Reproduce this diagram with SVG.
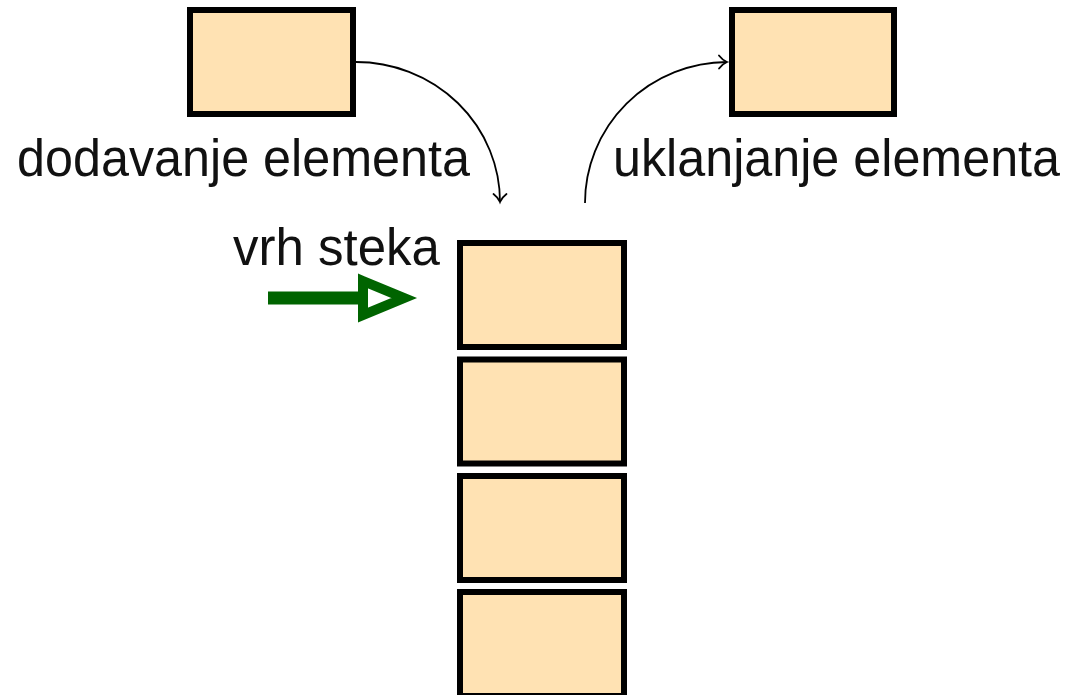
<svg xmlns="http://www.w3.org/2000/svg" width="1071" height="695" viewBox="0 0 1071 695">
  <style>
    .box { fill: #FFE2B3; stroke: #000; stroke-width: 6; }
    .lbl { font-family: "Liberation Sans", Arial, sans-serif; font-size: 51px; fill: #111; }
    .flow { fill: none; stroke: #000; stroke-width: 1.8; }
    .top { fill: none; stroke: #006400; stroke-width: 13; }
    .tophead { fill: #fff; stroke: #006400; stroke-width: 10; stroke-linejoin: miter; stroke-miterlimit: 10; }
  </style>
  <defs>
    <marker id="tip" markerUnits="userSpaceOnUse" markerWidth="20" markerHeight="20" refX="0" refY="0" viewBox="-12 -10 14 20" orient="auto">
      <path d="M-8,-6.5 C-5,-2.5 -2,-0.8 0,0 C-2,0.8 -5,2.5 -8,6.5" fill="none" stroke="#000" stroke-width="1.8" stroke-linecap="round"/>
    </marker>
  </defs>

  <rect width="1071" height="695" fill="#fff"/>

  <!-- element waiting to be pushed -->
  <g id="incoming">
    <rect class="box" x="190" y="10" width="163" height="104"/>
  </g>

  <!-- element that was popped -->
  <g id="outgoing">
    <rect class="box" x="732" y="10" width="162" height="104"/>
  </g>

  <!-- the stack itself, top element first -->
  <g id="stack-1">
    <rect class="box" x="460" y="243" width="164" height="104"/>
  </g>
  <g id="stack-2">
    <rect class="box" x="460" y="359.5" width="164" height="104"/>
  </g>
  <g id="stack-3">
    <rect class="box" x="460" y="476" width="164" height="104"/>
  </g>
  <g id="stack-4">
    <rect class="box" x="460" y="592" width="164" height="104"/>
  </g>

  <g id="connectors">
    <!-- push -->
    <path class="flow" d="M356,62 A144,140 0 0 1 500,202" marker-end="url(#tip)"/>
    <!-- pop -->
    <path class="flow" d="M585,203 A143,141 0 0 1 727,62" marker-end="url(#tip)"/>
    <!-- top-of-stack pointer -->
    <g id="top-pointer">
      <line class="top" x1="268" y1="298" x2="364" y2="298"/>
      <polygon class="tophead" points="363,281 404,298 363,315"/>
    </g>
  </g>

  <g id="labels">
    <text class="lbl" x="17" y="176" textLength="453" lengthAdjust="spacingAndGlyphs">dodavanje elementa</text>
    <text class="lbl" x="613" y="176" textLength="447" lengthAdjust="spacingAndGlyphs">uklanjanje elementa</text>
    <text class="lbl" x="233" y="265" textLength="207" lengthAdjust="spacingAndGlyphs">vrh steka</text>
  </g>
</svg>
